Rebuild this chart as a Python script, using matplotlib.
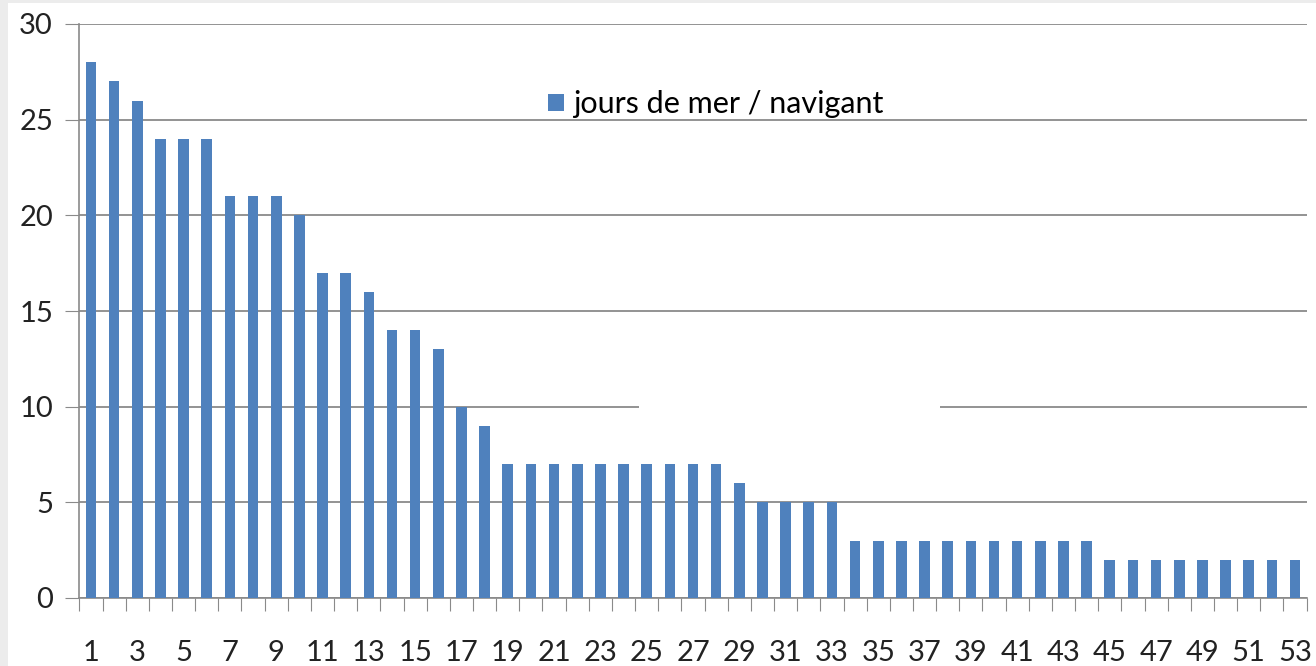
import matplotlib
matplotlib.use("Agg")
import matplotlib.pyplot as plt
from matplotlib.patches import Rectangle

categories = list(range(1, 54))
values = [28, 27, 26, 24, 24, 24, 21, 21, 21, 20,
          17, 17, 16, 14, 14, 13, 10, 9,
          7, 7, 7, 7, 7, 7, 7, 7, 7, 7,
          6, 5, 5, 5, 5,
          3, 3, 3, 3, 3, 3, 3, 3, 3, 3, 3,
          2, 2, 2, 2, 2, 2, 2, 2, 2]
series_name = "jours de mer / navigant"
yticks = [0, 5, 10, 15, 20, 25, 30]
xtick_labels = [str(c) for c in categories[::2]]

plt.rcParams['font.family'] = ['Lato', 'DejaVu Sans']

W, H = 1316, 666
fig = plt.figure(figsize=(W / 100, H / 100), dpi=100, facecolor='white')
# light gray margins at left and top
fig.patches.append(Rectangle((0, 0), 8 / W, 1, transform=fig.transFigure,
                             facecolor='#ececec', edgecolor='none', zorder=5))
fig.patches.append(Rectangle((0, 1 - 3 / H), 1, 3 / H, transform=fig.transFigure,
                             facecolor='#ececec', edgecolor='none', zorder=5))

left, right = 79.4 / W, 1306.6 / W
bottom, top = 1 - 598 / H, 1 - 24 / H
ax = fig.add_axes([left, bottom, right - left, top - bottom])
ax.set_facecolor('none')

x = list(range(len(categories)))
ax.bar(x, values, width=0.46, color='#4F81BD', zorder=3, label=series_name)
ax.set_xlim(-0.5, len(categories) - 0.5)
ax.set_ylim(0, 30)

ax.set_yticks(yticks)
ax.set_yticklabels([str(v) for v in yticks], fontsize=21, color='#222222')
ax.yaxis.grid(True, color='#8a8a8a', linewidth=1.3, zorder=1)
ax.tick_params(axis='y', length=10, color='#8a8a8a', pad=9)

ax.set_xticks([i - 0.5 for i in range(len(categories) + 1)])
ax.set_xticklabels([])
ax.set_xticks(x[::2], minor=True)
ax.set_xticklabels(xtick_labels, minor=True, fontsize=21, color='#222222')
ax.tick_params(axis='x', which='major', length=9, color='#8a8a8a', direction='out')
ax.tick_params(axis='x', which='minor', length=0, pad=30)

for s in ['top', 'right']:
    ax.spines[s].set_visible(False)
for s in ['left', 'bottom']:
    ax.spines[s].set_color('#8a8a8a')
    ax.spines[s].set_linewidth(1.2)

leg = ax.legend(loc='upper left', bbox_to_anchor=((536 - 79.4) / (1306.6 - 79.4), (598 - 78) / 574),
                frameon=False, fontsize=22, handlelength=0.5, handleheight=0.5,
                handletextpad=0.3, borderaxespad=0)

# white strip hiding part of the 10 gridline
fig.patches.append(Rectangle((639 / W, 1 - 412 / H), 301 / W, 8 / H, transform=fig.transFigure,
                             facecolor='white', edgecolor='none', zorder=5))

fig.savefig('out.png', dpi=100, facecolor=fig.get_facecolor())
